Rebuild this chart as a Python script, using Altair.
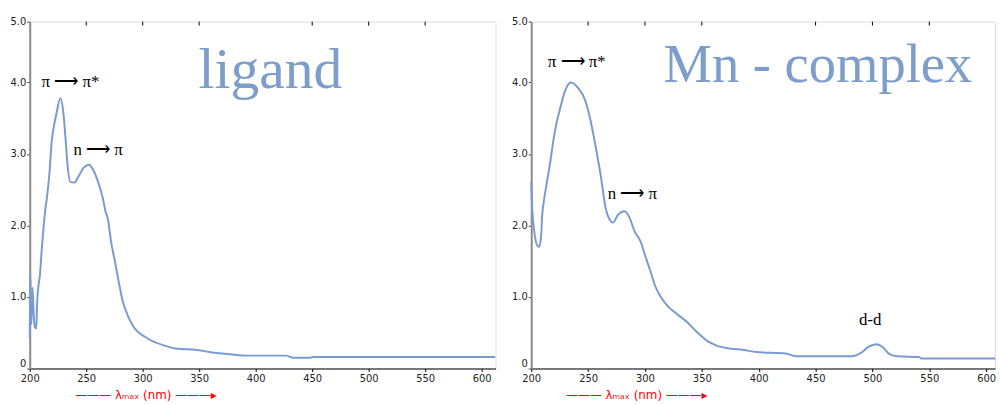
import altair as alt
import pandas as pd

# ---------- data ----------
lig_lam = [200, 200.5, 201.5, 202.5, 203.5, 204.5, 205.8, 206.5, 207.9, 209, 210.5, 212.3, 214, 215,
           217.5, 219.3, 221.9, 223.7, 227.2, 229.8, 231.6, 233.3, 236, 239.5, 243, 247.4, 252.6,
           256.1, 260.5, 265, 266.7, 269.3, 271.9, 275.4, 278.9, 282.5, 286.8, 291.2, 304.4, 319.3,
           329, 348.2, 363.2, 377, 392, 427, 433, 447, 451, 612]
lig_abs = [0.42, 1.35, 0.62, 1.13, 0.78, 0.58, 0.56, 0.9, 1.18, 1.3, 1.64, 1.99, 2.25, 2.36,
           2.74, 3.15, 3.43, 3.57, 3.78, 3.57, 3.24, 2.87, 2.61, 2.6, 2.68, 2.8, 2.85,
           2.78, 2.61, 2.36, 2.22, 2.08, 1.78, 1.5, 1.2, 0.93, 0.74, 0.6, 0.42, 0.32,
           0.28, 0.26, 0.22, 0.2, 0.18, 0.18, 0.15, 0.15, 0.16, 0.16]

mn_lam = [200, 201, 202.5, 205, 207, 208.7, 209.6, 211.3, 213.1, 216.6, 219.5, 222.1, 225.6, 229.9,
          235.1, 241.3, 247.4, 251.7, 256.1, 258.7, 261.3, 263.9, 265.2, 267.5, 271.9, 276.3,
          282.1, 286.4, 290.8, 296.0, 300.4, 304.8, 309.1, 313.5, 319.6, 328.3, 337, 345.7,
          354.4, 363.1, 374.5, 386.6, 397.9, 423.9, 433, 482, 491, 496, 504, 509, 515, 522,
          541, 543, 608]
mn_abs = [2.6, 2.2, 1.94, 1.73, 1.7, 1.85, 2.13, 2.36, 2.54, 2.87, 3.19, 3.42, 3.65, 3.89,
          4.0, 3.92, 3.75, 3.5, 3.15, 2.92, 2.68, 2.39, 2.26, 2.13, 2.04, 2.15,
          2.2, 2.11, 1.92, 1.78, 1.57, 1.36, 1.15, 1.01, 0.88, 0.76, 0.65, 0.51,
          0.39, 0.32, 0.28, 0.26, 0.23, 0.21, 0.17, 0.17, 0.23, 0.3, 0.34, 0.3, 0.2, 0.17,
          0.16, 0.14, 0.14]

x_ticks = [200, 250, 300, 350, 400, 450, 500, 550, 600]
top_ticks = [250, 300, 350, 450, 500, 550]
y_ticks = [0, 1, 2, 3, 4, 4.85]

lig_ann_text = ["π ⟶ π*", "n ⟶ π"]
lig_ann_lam = [236, 260.5]
lig_ann_abs = [4.01, 3.05]

mn_ann_text = ["π ⟶ π*", "n ⟶ π", "d-d"]
mn_ann_lam = [240, 289, 498]
mn_ann_abs = [4.29, 2.44, 0.68]

LINE = "#7a9bcf"
TITLE_COL = "#7d9dca"
XTITLE = "——— λₘₐₓ (nm) ———▸"


def panel(lam, ab, ann_lam, ann_abs, ann_text, title, t_lam, t_abs, t_size, xmax, width, title_x):
    xs = alt.Scale(domain=[200, xmax], nice=False, zero=False)
    ys = alt.Scale(domain=[0, 4.85], nice=False, zero=True)
    x_axis = alt.Axis(values=x_ticks, format="d", title=XTITLE, titleColor="red",
                      titleFont="DejaVu Sans", titleFontSize=12, titleFontWeight="normal",
                      titleX=title_x, titleY=26, titleAlign="center", titleBaseline="middle",
                      labelFont="DejaVu Sans", labelFontSize=10, labelColor="#222",
                      domainColor="black", tickColor="black", tickSize=3, labelPadding=2,
                      grid=False, labelFlush=False)
    y_axis = alt.Axis(values=y_ticks, title=None,
                      labelExpr="datum.value == 0 ? '0' : (datum.value > 4.5 ? '5.0' : format(datum.value, '.1f'))",
                      labelBaseline={"condition": {"test": "datum.value == 0", "value": "bottom"},
                                     "value": "middle"},
                      labelFont="DejaVu Sans", labelFontSize=10, labelColor="#222",
                      domainColor="#8a8a8a", domainWidth=2, tickColor="#444", tickSize=3,
                      labelPadding=1, grid=False, labelFlush=False)

    curve = alt.Chart(pd.DataFrame({"lam": lam, "abs": ab})).mark_line(
        color=LINE, strokeWidth=2, interpolate="monotone").encode(
        x=alt.X("lam:Q", scale=xs, axis=x_axis),
        y=alt.Y("abs:Q", scale=ys, axis=y_axis))

    tops = alt.Chart(pd.DataFrame({"lam": top_ticks})).mark_rule(color="black", strokeWidth=1).encode(
        x=alt.X("lam:Q", scale=xs, axis=x_axis),
        y=alt.value(0), y2=alt.value(4))

    ann = alt.Chart(pd.DataFrame({"lam": ann_lam, "abs": ann_abs, "label": ann_text})).mark_text(
        font="Liberation Serif", fontSize=17, color="black", baseline="middle", align="center").encode(
        x=alt.X("lam:Q", scale=xs, axis=x_axis),
        y=alt.Y("abs:Q", scale=ys, axis=y_axis),
        text="label:N")

    ttl = alt.Chart(pd.DataFrame({"lam": [t_lam], "abs": [t_abs], "label": [title]})).mark_text(
        font="Liberation Serif", fontSize=t_size, color=TITLE_COL, baseline="alphabetic", align="center").encode(
        x=alt.X("lam:Q", scale=xs, axis=x_axis),
        y=alt.Y("abs:Q", scale=ys, axis=y_axis),
        text="label:N")

    return alt.layer(curve, tops, ann, ttl).properties(width=width, height=350)


left = panel(lig_lam, lig_abs, lig_ann_lam, lig_ann_abs, lig_ann_text,
             "ligand", 413, 3.92, 58, 612.3, 470, 117)
right = panel(mn_lam, mn_abs, mn_ann_lam, mn_ann_abs, mn_ann_text,
              "Mn - complex", 452, 4.0, 55, 607.8, 468, 106)

chart = alt.hconcat(left, right, spacing=36, bounds="flush").properties(
    padding={"left": 9, "top": 14, "right": 0, "bottom": 0}
).configure_view(stroke="black", strokeWidth=1).configure(background="white")

chart.save("out.html", embed_options={"renderer": "svg", "actions": False})
